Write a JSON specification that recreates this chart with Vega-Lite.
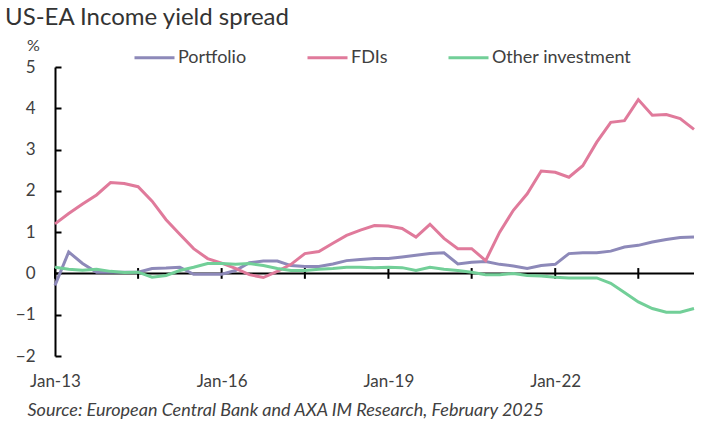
{
  "$schema": "https://vega.github.io/schema/vega-lite/v6.json",
  "autosize": {"type": "none"},
  "padding": {"left": 55, "top": 67, "right": 15, "bottom": 70},
  "width": 639,
  "height": 289,
  "background": "white",
  "title": {
    "text": "US-EA Income yield spread",
    "anchor": "start",
    "frame": "group",
    "dx": -50,
    "dy": -2,
    "fontSize": 24,
    "font": "Lato",
    "fontWeight": "normal",
    "color": "#333333"
  },
  "config": {
    "view": {"stroke": null},
    "font": "Lato",
    "axis": {"grid": false, "labelColor": "#404040", "titleColor": "#404040"}
  },
  "datasets": {
    "series": [
      {"date": "2013-01-01", "Portfolio": -0.29, "FDIs": 1.2, "Other investment": 0.15},
      {"date": "2013-04-01", "Portfolio": 0.52, "FDIs": 1.45, "Other investment": 0.1},
      {"date": "2013-07-01", "Portfolio": 0.24, "FDIs": 1.68, "Other investment": 0.08},
      {"date": "2013-10-01", "Portfolio": 0.03, "FDIs": 1.9, "Other investment": 0.1},
      {"date": "2014-01-01", "Portfolio": 0.03, "FDIs": 2.2, "Other investment": 0.05},
      {"date": "2014-04-01", "Portfolio": 0.03, "FDIs": 2.18, "Other investment": 0.02},
      {"date": "2014-07-01", "Portfolio": 0.03, "FDIs": 2.1, "Other investment": 0.03},
      {"date": "2014-10-01", "Portfolio": 0.12, "FDIs": 1.75, "Other investment": -0.09},
      {"date": "2015-01-01", "Portfolio": 0.13, "FDIs": 1.3, "Other investment": -0.05},
      {"date": "2015-04-01", "Portfolio": 0.15, "FDIs": 0.95, "Other investment": 0.07},
      {"date": "2015-07-01", "Portfolio": -0.02, "FDIs": 0.6, "Other investment": 0.15},
      {"date": "2015-10-01", "Portfolio": -0.02, "FDIs": 0.36, "Other investment": 0.24},
      {"date": "2016-01-01", "Portfolio": -0.02, "FDIs": 0.25, "Other investment": 0.24},
      {"date": "2016-04-01", "Portfolio": 0.07, "FDIs": 0.12, "Other investment": 0.22},
      {"date": "2016-07-01", "Portfolio": 0.26, "FDIs": -0.03, "Other investment": 0.24},
      {"date": "2016-10-01", "Portfolio": 0.3, "FDIs": -0.1, "Other investment": 0.19},
      {"date": "2017-01-01", "Portfolio": 0.3, "FDIs": 0.05, "Other investment": 0.12},
      {"date": "2017-04-01", "Portfolio": 0.19, "FDIs": 0.22, "Other investment": 0.07},
      {"date": "2017-07-01", "Portfolio": 0.17, "FDIs": 0.48, "Other investment": 0.07},
      {"date": "2017-10-01", "Portfolio": 0.17, "FDIs": 0.53, "Other investment": 0.1},
      {"date": "2018-01-01", "Portfolio": 0.23, "FDIs": 0.73, "Other investment": 0.12},
      {"date": "2018-04-01", "Portfolio": 0.31, "FDIs": 0.92, "Other investment": 0.15},
      {"date": "2018-07-01", "Portfolio": 0.34, "FDIs": 1.05, "Other investment": 0.15},
      {"date": "2018-10-01", "Portfolio": 0.36, "FDIs": 1.16, "Other investment": 0.14},
      {"date": "2019-01-01", "Portfolio": 0.36, "FDIs": 1.15, "Other investment": 0.15},
      {"date": "2019-04-01", "Portfolio": 0.4, "FDIs": 1.09, "Other investment": 0.14},
      {"date": "2019-07-01", "Portfolio": 0.44, "FDIs": 0.88, "Other investment": 0.07},
      {"date": "2019-10-01", "Portfolio": 0.48, "FDIs": 1.19, "Other investment": 0.15},
      {"date": "2020-01-01", "Portfolio": 0.5, "FDIs": 0.85, "Other investment": 0.1},
      {"date": "2020-04-01", "Portfolio": 0.23, "FDIs": 0.6, "Other investment": 0.07},
      {"date": "2020-07-01", "Portfolio": 0.27, "FDIs": 0.6, "Other investment": 0.03},
      {"date": "2020-10-01", "Portfolio": 0.29, "FDIs": 0.31, "Other investment": -0.03},
      {"date": "2021-01-01", "Portfolio": 0.22, "FDIs": 1.0, "Other investment": -0.03},
      {"date": "2021-04-01", "Portfolio": 0.18, "FDIs": 1.53, "Other investment": 0.0},
      {"date": "2021-07-01", "Portfolio": 0.12, "FDIs": 1.93, "Other investment": -0.05},
      {"date": "2021-10-01", "Portfolio": 0.19, "FDIs": 2.48, "Other investment": -0.06},
      {"date": "2022-01-01", "Portfolio": 0.22, "FDIs": 2.45, "Other investment": -0.09},
      {"date": "2022-04-01", "Portfolio": 0.48, "FDIs": 2.33, "Other investment": -0.11},
      {"date": "2022-07-01", "Portfolio": 0.5, "FDIs": 2.61, "Other investment": -0.11},
      {"date": "2022-10-01", "Portfolio": 0.5, "FDIs": 3.18, "Other investment": -0.11},
      {"date": "2023-01-01", "Portfolio": 0.54, "FDIs": 3.66, "Other investment": -0.24},
      {"date": "2023-04-01", "Portfolio": 0.64, "FDIs": 3.7, "Other investment": -0.46},
      {"date": "2023-07-01", "Portfolio": 0.68, "FDIs": 4.21, "Other investment": -0.69},
      {"date": "2023-10-01", "Portfolio": 0.76, "FDIs": 3.83, "Other investment": -0.85},
      {"date": "2024-01-01", "Portfolio": 0.82, "FDIs": 3.85, "Other investment": -0.94},
      {"date": "2024-04-01", "Portfolio": 0.87, "FDIs": 3.75, "Other investment": -0.94},
      {"date": "2024-07-01", "Portfolio": 0.88, "FDIs": 3.49, "Other investment": -0.85}
    ],
    "ticks": [
      {"date": "2013-01-01"},
      {"date": "2014-07-01"},
      {"date": "2016-01-01"},
      {"date": "2017-07-01"},
      {"date": "2019-01-01"},
      {"date": "2020-07-01"},
      {"date": "2022-01-01"},
      {"date": "2023-07-01"}
    ],
    "zero": [{"y": 0}]
  },
  "layer": [
    {
      "data": {"name": "zero"},
      "mark": {"type": "rule", "color": "black", "strokeWidth": 2},
      "encoding": {"y": {"field": "y", "type": "quantitative"}}
    },
    {
      "data": {"name": "ticks"},
      "mark": {"type": "rule", "color": "black", "strokeWidth": 2},
      "encoding": {
        "x": {"field": "date", "type": "temporal", "title": "Source: European Central Bank and AXA IM Research, February 2025"},
        "y": {"datum": -0.13},
        "y2": {"datum": 0.13}
      }
    },
    {
      "data": {"name": "series"},
      "transform": [{"fold": ["Portfolio", "FDIs", "Other investment"], "as": ["series", "value"]}],
      "mark": {"type": "line", "strokeWidth": 3, "clip": false},
      "encoding": {
        "x": {
          "field": "date",
          "type": "temporal",
          "scale": {"type": "utc", "domain": [{"year": 2013, "month": 1, "date": 1, "utc": true}, {"year": 2024, "month": 7, "date": 1, "utc": true}]},
          "axis": {
            "orient": "bottom",
            "domain": false,
            "ticks": false,
            "tickSize": 0,
            "values": [{"year": 2013, "month": 1, "date": 1, "utc": true}, {"year": 2016, "month": 1, "date": 1, "utc": true}, {"year": 2019, "month": 1, "date": 1, "utc": true}, {"year": 2022, "month": 1, "date": 1, "utc": true}],
            "labelExpr": "utcFormat(datum.value, '%b-%y')",
            "labelFontSize": 17,
            "labelPadding": 17,
            "labelFlush": false,
            "labelOverlap": false,
            "title": "Source: European Central Bank and AXA IM Research, February 2025",
            "titleFontSize": 18,
            "titleFontStyle": "italic",
            "titleFontWeight": "normal",
            "titleAlign": "left",
            "titleAnchor": "start",
            "titleX": -28,
            "titleY": 54,
            "titleBaseline": "middle"
          }
        },
        "y": {
          "field": "value",
          "type": "quantitative",
          "title": "%",
          "scale": {"domain": [-2, 5], "nice": false, "zero": false},
          "axis": {
            "values": [-2, -1, 0, 1, 2, 3, 4, 5],
            "domainColor": "black",
            "domainWidth": 2,
            "tickColor": "black",
            "tickWidth": 2,
            "tickSize": -6,
            "labelPadding": 26,
            "labelFontSize": 17,
            "title": "%",
            "titleAngle": 0,
            "titleFontSize": 16,
            "titleFontWeight": "normal",
            "titleX": -22,
            "titleY": -22,
            "titleAlign": "center",
            "titleBaseline": "middle"
          }
        },
        "color": {
          "field": "series",
          "type": "nominal",
          "sort": ["Portfolio", "FDIs", "Other investment"],
          "scale": {"domain": ["Portfolio", "FDIs", "Other investment"], "range": ["#8d89b9", "#e07a9b", "#72cf98"]},
          "legend": {
            "orient": "none",
            "direction": "horizontal",
            "legendX": 78,
            "legendY": -31,
            "title": null,
            "symbolType": "stroke",
            "symbolSize": 1600,
            "symbolStrokeWidth": 3,
            "labelFontSize": 18,
            "labelColor": "#404040",
            "labelOffset": 2,
            "columnPadding": 54
          }
        }
      }
    }
  ]
}
